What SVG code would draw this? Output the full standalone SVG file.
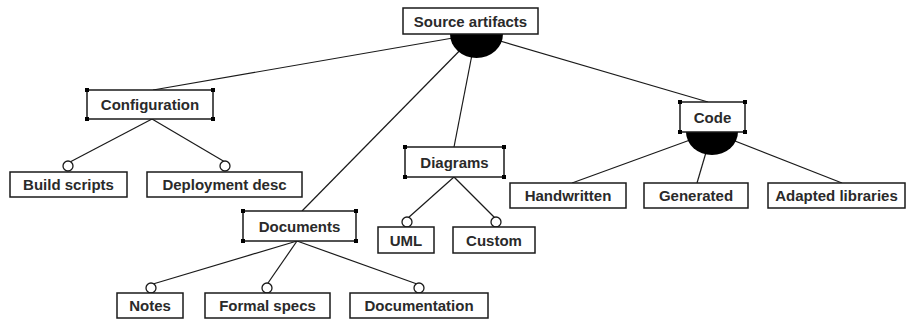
<svg xmlns="http://www.w3.org/2000/svg" width="909" height="320" viewBox="0 0 909 320">
  <style>
    .box { fill: #ffffff; stroke: #1a1a1a; stroke-width: 1.5; }
    .lbl { font-family: "Liberation Sans", Arial, sans-serif; font-weight: bold; font-size: 15px; fill: #2a2a2a; text-anchor: middle; }
    .edge { stroke: #1a1a1a; stroke-width: 1.2; fill: none; }
    .opt { fill: #ffffff; stroke: #1a1a1a; stroke-width: 1.3; }
    .grp { fill: #000000; }
  </style>
  <defs>
    <rect id="h" x="-2" y="-2" width="4" height="4" fill="#000"/>
  </defs>
  <rect width="909" height="320" fill="#ffffff"/>

  <!-- connectors -->
  <g id="connectors">
    <!-- Source artifacts -> sub-features -->
    <line class="edge" x1="476" y1="34" x2="153" y2="90"/>
    <line class="edge" x1="476" y1="34" x2="302" y2="211"/>
    <line class="edge" x1="476" y1="34" x2="454" y2="147"/>
    <line class="edge" x1="476" y1="34" x2="708" y2="102"/>
    <path class="grp" d="M450,34 L503,34 A26.5,24 0 0 1 450,34 Z"/>
    <!-- Configuration -> optional children -->
    <line class="edge" x1="152" y1="119" x2="70" y2="162"/>
    <line class="edge" x1="152" y1="119" x2="225" y2="162"/>
    <circle class="opt" cx="68" cy="166" r="5"/>
    <circle class="opt" cx="225" cy="166" r="5"/>
    <!-- Diagrams -> optional children -->
    <line class="edge" x1="454" y1="177" x2="408" y2="218"/>
    <line class="edge" x1="454" y1="177" x2="495" y2="218"/>
    <circle class="opt" cx="407" cy="222" r="5"/>
    <circle class="opt" cx="496" cy="222" r="5"/>
    <!-- Documents -> optional children -->
    <line class="edge" x1="297" y1="241" x2="153" y2="284"/>
    <line class="edge" x1="297" y1="241" x2="268" y2="283"/>
    <line class="edge" x1="297" y1="241" x2="417" y2="284"/>
    <circle class="opt" cx="151" cy="288" r="5"/>
    <circle class="opt" cx="267" cy="288" r="5"/>
    <circle class="opt" cx="419" cy="288" r="5"/>
    <!-- Code -> group children -->
    <line class="edge" x1="712" y1="132" x2="572" y2="183"/>
    <line class="edge" x1="712" y1="132" x2="697" y2="183"/>
    <line class="edge" x1="712" y1="132" x2="842" y2="183"/>
    <path class="grp" d="M686,132 L738,132 A26,23 0 0 1 686,132 Z"/>
  </g>

  <g id="source-artifacts">
    <rect class="box" x="403" y="8" width="135" height="26"/>
    <text class="lbl" x="470.5" y="26.5">Source artifacts</text>
  </g>

  <g id="configuration">
    <rect class="box" x="87" y="90" width="126" height="29"/>
    <text class="lbl" x="150" y="110">Configuration</text>
    <use href="#h" x="87" y="90"/><use href="#h" x="213" y="90"/>
    <use href="#h" x="87" y="119"/><use href="#h" x="213" y="119"/>
  </g>

  <g id="build-scripts">
    <rect class="box" x="10" y="172" width="117" height="25"/>
    <text class="lbl" x="68.5" y="190">Build scripts</text>
  </g>

  <g id="deployment-desc">
    <rect class="box" x="147" y="172" width="155" height="25"/>
    <text class="lbl" x="224.5" y="190">Deployment desc</text>
  </g>

  <g id="documents">
    <rect class="box" x="243" y="211" width="113" height="30"/>
    <text class="lbl" x="299.5" y="231.5">Documents</text>
    <use href="#h" x="243" y="211"/><use href="#h" x="356" y="211"/>
    <use href="#h" x="243" y="241"/><use href="#h" x="356" y="241"/>
  </g>

  <g id="notes">
    <rect class="box" x="117" y="293" width="66" height="25"/>
    <text class="lbl" x="150" y="311">Notes</text>
  </g>

  <g id="formal-specs">
    <rect class="box" x="205" y="293" width="125" height="25"/>
    <text class="lbl" x="267.5" y="311">Formal specs</text>
  </g>

  <g id="documentation">
    <rect class="box" x="350" y="293" width="138" height="25"/>
    <text class="lbl" x="419" y="311">Documentation</text>
  </g>

  <g id="diagrams">
    <rect class="box" x="405" y="147" width="99" height="30"/>
    <text class="lbl" x="454.5" y="167.5">Diagrams</text>
    <use href="#h" x="405" y="147"/><use href="#h" x="504" y="147"/>
    <use href="#h" x="405" y="177"/><use href="#h" x="504" y="177"/>
  </g>

  <g id="uml">
    <rect class="box" x="378" y="227" width="56" height="26"/>
    <text class="lbl" x="406" y="245.5">UML</text>
  </g>

  <g id="custom">
    <rect class="box" x="453" y="227" width="82" height="26"/>
    <text class="lbl" x="494" y="245.5">Custom</text>
  </g>

  <g id="code">
    <rect class="box" x="680" y="102" width="65" height="30"/>
    <text class="lbl" x="712.5" y="122.5">Code</text>
    <use href="#h" x="680" y="102"/><use href="#h" x="745" y="102"/>
    <use href="#h" x="680" y="132"/><use href="#h" x="745" y="132"/>
  </g>

  <g id="handwritten">
    <rect class="box" x="510" y="183" width="116" height="25"/>
    <text class="lbl" x="568" y="201">Handwritten</text>
  </g>

  <g id="generated">
    <rect class="box" x="644" y="183" width="104" height="25"/>
    <text class="lbl" x="696" y="201">Generated</text>
  </g>

  <g id="adapted-libraries">
    <rect class="box" x="768" y="183" width="137" height="25"/>
    <text class="lbl" x="836.5" y="201">Adapted libraries</text>
  </g>
</svg>
